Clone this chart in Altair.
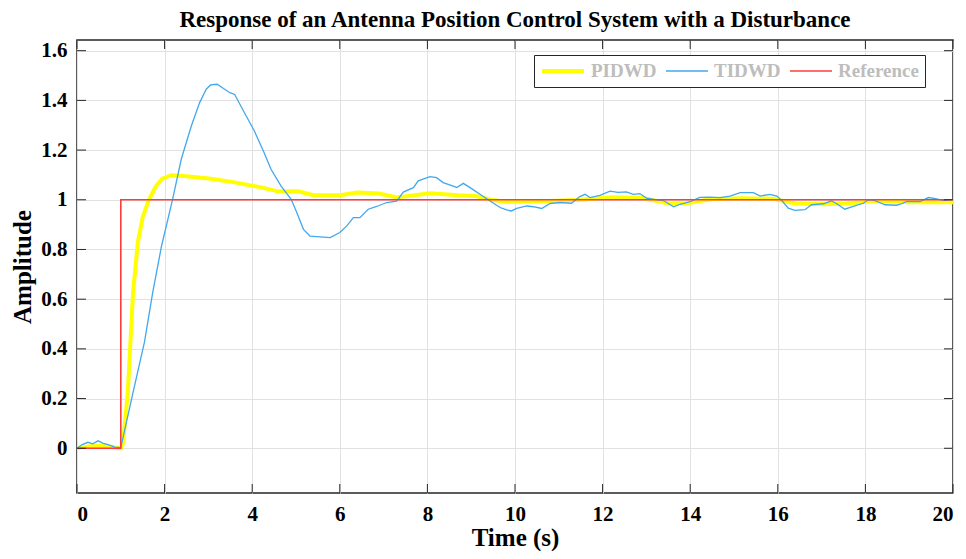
import altair as alt
import pandas as pd

# ---------------- data ----------------
ref_t = [0, 1, 1, 20]
ref_y = [0, 0, 1, 1]

pid_t = [0, 0.3, 0.6, 1.0, 1.05, 1.16, 1.28, 1.39, 1.5, 1.64, 1.8, 1.95, 2.15, 2.5,
         3.06, 3.6, 4.2, 4.59, 5.05, 5.4, 6.0, 6.4, 6.9, 7.3, 8.06, 8.7, 9.1, 9.45,
         9.8, 10.5, 11.5, 12.2, 12.9, 13.5, 13.9, 14.5, 15.2, 15.9, 16.4, 17.0,
         17.6, 18.2, 19.0, 20.0]
pid_y = [0, 0.008, 0.01, 0.0, 0.02, 0.225, 0.628, 0.83, 0.93, 1.0, 1.054, 1.085, 1.099, 1.095,
         1.085, 1.07, 1.05, 1.034, 1.034, 1.018, 1.018, 1.029, 1.025, 1.009, 1.026, 1.018, 1.015, 1.0,
         0.991, 0.993, 1.0, 1.01, 1.008, 0.985, 0.985, 1.003, 1.006, 1.004, 0.985, 0.982,
         0.985, 0.995, 0.99, 0.99]

tid_t = [0, 0.12, 0.25, 0.36, 0.48, 0.6, 0.71, 0.86, 1.0, 1.28, 1.54, 1.73, 1.93, 2.18,
         2.38, 2.61, 2.8, 2.95, 3.05, 3.2, 3.37, 3.49, 3.6, 3.82, 4.05, 4.27, 4.43, 4.66,
         4.89, 5.02, 5.17, 5.32, 5.47, 5.78, 6.0, 6.16, 6.31, 6.46, 6.65, 6.84, 7.07, 7.3,
         7.45, 7.68, 7.79, 8.06, 8.21, 8.36, 8.59, 8.67, 8.82, 9.01, 9.2, 9.43, 9.66, 9.81,
         9.92, 10.04, 10.27, 10.42, 10.61, 10.8, 11.03, 11.29, 11.48, 11.6, 11.71, 11.94,
         12.17, 12.35, 12.54, 12.7, 12.85, 13.0, 13.24, 13.39, 13.62, 13.77, 14.0, 14.22,
         14.45, 14.68, 14.91, 15.14, 15.44, 15.6, 15.82, 15.98, 16.09, 16.24, 16.39, 16.62,
         16.77, 17.04, 17.23, 17.38, 17.53, 17.72, 17.95, 18.07, 18.22, 18.45, 18.71, 18.83,
         18.94, 19.25, 19.44, 19.6, 19.78, 20.0]
tid_y = [0, 0.015, 0.024, 0.018, 0.03, 0.02, 0.015, 0.005, 0.003, 0.225, 0.427, 0.628, 0.814, 1.0,
         1.163, 1.297, 1.391, 1.445, 1.462, 1.465, 1.445, 1.431, 1.424, 1.351, 1.277, 1.19, 1.123, 1.055,
         1.002, 0.948, 0.881, 0.854, 0.852, 0.848, 0.868, 0.895, 0.928, 0.928, 0.962, 0.973, 0.989, 0.995,
         1.031, 1.049, 1.076, 1.093, 1.089, 1.069, 1.055, 1.049, 1.066, 1.045, 1.022, 0.995, 0.969, 0.959,
         0.955, 0.965, 0.975, 0.972, 0.965, 0.985, 0.989, 0.986, 1.013, 1.022, 1.009, 1.018,
         1.035, 1.03, 1.032, 1.022, 1.025, 1.007, 1.0, 0.997, 0.972, 0.982, 0.993, 1.01,
         1.011, 1.009, 1.015, 1.029, 1.029, 1.015, 1.022, 1.015, 0.997, 0.966, 0.957, 0.96,
         0.98, 0.984, 0.996, 0.98, 0.962, 0.973, 0.986, 1.0, 0.997, 0.98, 0.978, 0.984,
         0.993, 0.993, 1.009, 1.005, 0.997, 1.002]

series_names = ["PIDWD", "TIDWD", "Reference"]
series_colors = ["#FFFF00", "#42A8EE", "#FF3C3C"]
series_widths = [4, 1.3, 1.6]

x_ticks = [0, 2, 4, 6, 8, 10, 12, 14, 16, 18, 20]
y_ticks = [0, 0.2, 0.4, 0.6, 0.8, 1.0, 1.2, 1.4, 1.6]
x_domain = [0, 20]
y_domain = [-0.18, 1.643]

# ---------------- build tables ----------------
def frame(ts, ys, name):
    return pd.DataFrame({"t": ts, "y": ys, "series": name, "i": list(range(len(ts)))})

df_pid = frame(pid_t, pid_y, "PIDWD")
df_tid = frame(tid_t, tid_y, "TIDWD")
df_ref = frame(ref_t, ref_y, "Reference")

W, H = 876, 453
FONT = "Liberation Serif"
AX = "#262626"

x_enc = alt.X("t:Q", scale=alt.Scale(domain=x_domain, nice=False, zero=False),
              axis=alt.Axis(values=x_ticks, title="Time (s)", format="~g"))
y_enc = alt.Y("y:Q", scale=alt.Scale(domain=y_domain, nice=False, zero=False),
              axis=alt.Axis(values=y_ticks, title="Amplitude", format="~g"))
legend_props = dict(title=None, orient="none", legendX=457, legendY=15,
                    direction="horizontal", fillColor="white",
                    strokeColor=AX, padding=6,
                    labelFont=FONT, labelFontWeight="bold",
                    labelFontSize=19, labelColor="#BDBDBD",
                    symbolType="stroke", symbolSize=1764,
                    clipHeight=20, columnPadding=8, labelOffset=5)
color_enc = alt.Color("series:N",
                      scale=alt.Scale(domain=series_names, range=series_colors),
                      legend=alt.Legend(**legend_props))
sw_enc = alt.StrokeWidth("series:N",
                         scale=alt.Scale(type="ordinal", domain=series_names, range=series_widths),
                         legend=alt.Legend(**legend_props))


def line_layer(df):
    return alt.Chart(df).mark_line(clip=True).encode(
        x=x_enc, y=y_enc, color=color_enc, strokeWidth=sw_enc, order="i:Q")


# inward tick marks on all four sides
xt = pd.DataFrame({"t": x_ticks})
yt = pd.DataFrame({"y": y_ticks})
tick_bottom = alt.Chart(xt).mark_rule(color=AX, strokeWidth=1).encode(
    x="t:Q", y=alt.value(H), y2=alt.value(H - 9))
tick_top = alt.Chart(xt).mark_rule(color=AX, strokeWidth=1).encode(
    x="t:Q", y=alt.value(0), y2=alt.value(9))
tick_left = alt.Chart(yt).mark_rule(color=AX, strokeWidth=1).encode(
    y="y:Q", x=alt.value(0), x2=alt.value(9))
tick_right = alt.Chart(yt).mark_rule(color=AX, strokeWidth=1).encode(
    y="y:Q", x=alt.value(W), x2=alt.value(W - 9))

chart = alt.layer(
    line_layer(df_pid), line_layer(df_tid), line_layer(df_ref),
    tick_bottom, tick_top, tick_left, tick_right,
).properties(
    width=W, height=H,
    padding={"left": 69, "top": 32, "right": 5, "bottom": 58},
    autosize=alt.AutoSizeParams(type="none"),
    title=alt.Title("Response of an Antenna Position Control System with a Disturbance",
                    font=FONT, fontSize=23, fontWeight="bold", color="black",
                    anchor="middle", frame="group", offset=8),
).configure_view(
    stroke=AX, strokeWidth=1.5
).configure_axis(
    grid=True, gridColor="#E1E1E1", gridWidth=1, domain=False, ticks=False,
    labelFont=FONT, labelFontWeight="bold", labelFontSize=21, labelColor="black",
    titleFont=FONT, titleFontWeight="bold", titleFontSize=25, titleColor="black",
).configure_axisX(
    labelPadding=10, titlePadding=1
).configure_axisY(
    labelPadding=10, titlePadding=5
)

chart.save("out.html", embed_options={"renderer": "svg", "actions": False})
